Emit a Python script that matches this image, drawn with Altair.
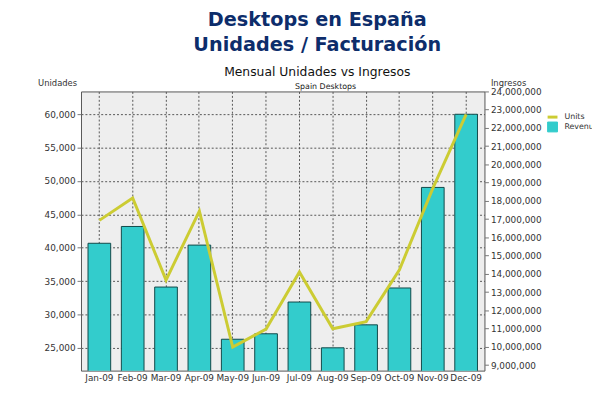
import altair as alt
import pandas as pd

months = ["Jan-09", "Feb-09", "Mar-09", "Apr-09", "May-09", "Jun-09",
          "Jul-09", "Aug-09", "Sep-09", "Oct-09", "Nov-09", "Dec-09"]
units = [44100, 47450, 35150, 45500, 25100, 27800,
         36350, 27850, 28920, 36700, 48900, 60000]
revenue = [15680000, 16600000, 13280000, 15580000, 10420000, 10720000,
           12460000, 9950000, 11210000, 13230000, 18740000, 22750000]
left_ticks = [25000, 30000, 35000, 40000, 45000, 50000, 55000, 60000]
right_ticks = [9000000 + i * 1000000 for i in range(16)]
left_domain = [21565, 63435]
right_domain = [8700000, 24000000]
series = ["Units", "Revenue"]
series_colors = ["#CCCC33", "#33CCCC"]

df = pd.DataFrame({"Month": months, "Units": units, "Revenue": revenue})

FONT = "DejaVu Sans"
LBL = "#333333"
GRID = "#555555"
NUMFMT = "format(datum.value, ',')"

x_enc = alt.X(
    "Month:N", sort=months, title=None,
    scale=alt.Scale(paddingInner=0.32, paddingOuter=0.21),
    axis=alt.Axis(labelAngle=0, grid=True, bandPosition=0.5, ticks=False,
                  domain=False, labelFont=FONT, labelFontSize=9,
                  labelColor=LBL, labelPadding=3, labelOverlap=False,
                  gridDash=[2, 2], gridColor=GRID, gridWidth=1),
)

color_scale = alt.Scale(domain=series, range=series_colors)
legend = alt.Legend(
    title=None, orient="none", legendX=474, legendY=22, symbolSize=100,
    labelFont=FONT, labelFontSize=8, labelColor=LBL, labelOffset=8,
    rowPadding=-4, symbolOpacity=1,
    symbolType={"expr": "datum.value === 'Units' ? 'stroke' : 'square'"},
    symbolFillColor={"expr": "datum.value === 'Units' ? 'transparent' : '#33CCCC'"},
    symbolStrokeColor={"expr": "datum.value === 'Units' ? '#CCCC33' : '#114848'"},
    symbolStrokeWidth={"expr": "datum.value === 'Units' ? 3 : 1"},
)
color_enc = alt.Color("Series:N", scale=color_scale, legend=legend)

bars = alt.Chart(df).transform_calculate(Series="'Revenue'").mark_bar(
    stroke="#114848", strokeWidth=1, opacity=1, clip=True
).encode(
    x=x_enc,
    y=alt.Y("Revenue:Q",
            scale=alt.Scale(domain=right_domain, zero=False, nice=False),
            axis=alt.Axis(orient="right", values=right_ticks, labelExpr=NUMFMT,
                          grid=False, title="Ingresos", titleAngle=0,
                          titleX=6, titleY=-6, titleAlign="left",
                          titleBaseline="alphabetic", titleFont=FONT,
                          titleFontSize=8.5, titleFontWeight="normal",
                          titleColor=LBL, labelFont=FONT, labelFontSize=9,
                          labelColor=LBL, tickSize=4, tickColor="#777777",
                          domain=False, labelPadding=2, labelOverlap=False)),
    color=color_enc,
)

line = alt.Chart(df).transform_calculate(Series="'Units'").mark_line(
    strokeWidth=3
).encode(
    x=x_enc,
    y=alt.Y("Units:Q",
            scale=alt.Scale(domain=left_domain, zero=False, nice=False),
            axis=alt.Axis(orient="left", values=left_ticks, labelExpr=NUMFMT,
                          grid=True, gridDash=[2, 2], gridColor=GRID,
                          gridWidth=1, title="Unidades", titleAngle=0,
                          titleX=-44, titleY=-6, titleAlign="left",
                          titleBaseline="alphabetic", titleFont=FONT,
                          titleFontSize=8.5, titleFontWeight="normal",
                          titleColor=LBL, labelFont=FONT, labelFontSize=9,
                          labelColor=LBL, tickSize=4, tickColor="#777777",
                          domain=False, labelPadding=2, labelOverlap=False)),
    color=color_enc,
)

sub = alt.Chart(pd.DataFrame({"t": ["Spain  Desktops"]})).mark_text(
    font=FONT, fontSize=8, color="#222222", align="center", baseline="alphabetic"
).encode(text="t:N", x=alt.value(248), y=alt.value(-2))

chart = alt.layer(bars, line, sub).resolve_scale(y="independent").properties(
    width=409, height=283,
    autosize=alt.AutoSizeParams(type="none"),
    padding={"left": 74, "top": 82, "right": 109, "bottom": 14},
    title=alt.TitleParams(
        text=["Desktops en España", "Unidades / Facturación"],
        subtitle="Mensual Unidades vs Ingresos",
        font=FONT, fontSize=19.5, fontWeight="bold", color="#0d2d6b",
        lineHeight=25, subtitleFont=FONT, subtitleFontSize=12.5,
        subtitleColor="#111111", subtitlePadding=11,
        anchor="middle", frame="group", dx=35, offset=-1,
    ),
).configure_view(fill="#eeeeee", stroke="#555555", strokeWidth=1)

chart.save("out.html", embed_options={"renderer": "svg", "actions": False})
